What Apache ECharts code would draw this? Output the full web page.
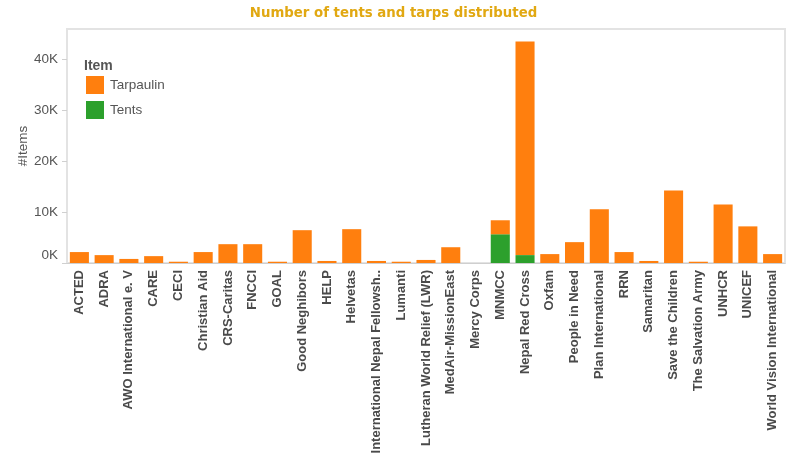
<!DOCTYPE html>
<html>
<head>
<meta charset="utf-8">
<script src="https://cdn.jsdelivr.net/npm/echarts@6/dist/echarts.min.js"></script>
<style>
html,body{margin:0;padding:0;background:#fff;}
#chart{width:787px;height:469px;}
</style>
</head>
<body>
<div id="chart"></div>
<script>
const categories = [
  "ACTED","ADRA","AWO International e. V","CARE","CECI","Christian Aid","CRS-Caritas","FNCCI","GOAL",
  "Good Neghibors","HELP","Helvetas","International Nepal Fellowsh..","Lumanti","Lutheran World Relief (LWR)",
  "MedAir-MissionEast","Mercy Corps","MNMCC","Nepal Red Cross","Oxfam","People in Need","Plan International",
  "RRN","Samaritan","Save the Children","The Salvation Army","UNHCR","UNICEF","World Vision International"
];
const tarpaulin = [
  2150,1550,800,1350,250,2150,3700,3700,250,
  6450,400,6650,400,250,600,
  3100,0,2750,42000,1750,4100,10550,
  2150,400,14250,250,11500,7200,1750
];
const tents = [
  0,0,0,0,0,0,0,0,0,
  0,0,0,0,0,0,
  0,0,5650,1550,0,0,0,
  0,0,0,0,0,0,0
];
const yTicks = [0,10000,20000,30000,40000];
const titleText = "Number of tents and tarps distributed";
const legendTitle = "Item";
const yName = "#Items";

const chart = echarts.init(document.getElementById('chart'), null, {renderer:'canvas'});
chart.setOption({
  animation:false,
  title:[
    {text:titleText,left:'center',top:7,padding:0,
     textStyle:{fontFamily:'DejaVu Sans',fontWeight:'bold',fontSize:13.3,color:'#E1A812'}},
    {text:legendTitle,left:84,top:59,padding:0,
     textStyle:{fontFamily:'Liberation Sans',fontWeight:'bold',fontSize:14,color:'#555'}}
  ],
  legend:{
    orient:'vertical',left:86,top:76,padding:0,itemWidth:18,itemHeight:18,itemGap:7,
    icon:'rect',data:['Tarpaulin','Tents'],
    textStyle:{fontFamily:'Liberation Sans',fontSize:13.5,color:'#555',padding:[0,0,0,1]}
  },
  grid:{left:67,right:2,top:29,bottom:206,show:true,borderColor:'#e3e3e3',borderWidth:2,containLabel:false},
  xAxis:{
    type:'category',data:categories,
    axisLine:{lineStyle:{color:'#cfcfcf',width:1}},
    axisTick:{lineStyle:{color:'#d6d6d6'},length:5},
    axisLabel:{rotate:90,interval:0,margin:7,fontFamily:'Liberation Sans',fontWeight:'bold',fontSize:13,color:'#4a4a4a'}
  },
  yAxis:{
    type:'value',min:0,max:46000,interval:10000,
    name:yName,nameLocation:'middle',nameGap:37,nameMoveOverlap:false,
    nameTextStyle:{fontFamily:'Liberation Sans',fontSize:13.5,color:'#555'},
    splitLine:{show:false},
    axisLine:{show:false},
    axisTick:{show:true,length:5,lineStyle:{color:'#d0d0d0'},customValues:yTicks},
    axisLabel:{fontFamily:'Liberation Sans',fontSize:13.5,color:'#555',margin:9,customValues:yTicks,
      formatter:function(v){return v===0 ? '{z|0K}' : (v/1000)+'K';},
      rich:{z:{fontFamily:'Liberation Sans',fontSize:13.5,color:'#555',padding:[0,0,15,0]}}}
  },
  series:[
    {name:'Tents',type:'bar',stack:'total',data:tents,itemStyle:{color:'#2CA02C'},barCategoryGap:'23%'},
    {name:'Tarpaulin',type:'bar',stack:'total',data:tarpaulin,itemStyle:{color:'#FF7F0E'},barCategoryGap:'23%'}
  ]
});
</script>
</body>
</html>
